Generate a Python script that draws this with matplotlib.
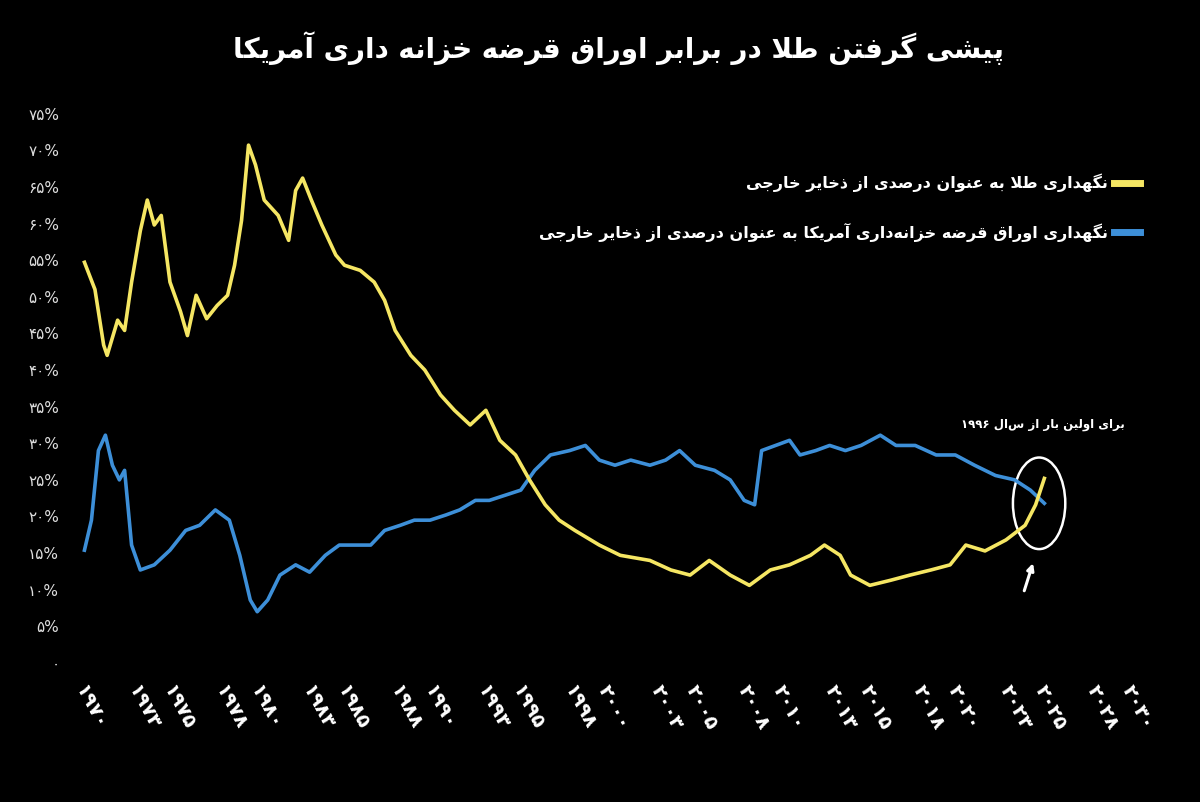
import matplotlib
matplotlib.use("Agg")
import matplotlib.pyplot as plt
from matplotlib.patches import Ellipse

plt.rcParams['font.family'] = ['DejaVu Sans']

# ---------------- data ----------------
gold_years = [1969.8,1970.4,1970.9,1971.1,1971.7,1972.1,1972.5,1973.0,1973.4,1973.8,1974.2,1974.7,1975.3,1975.7,
              1976.2,1976.8,1977.4,1978.0,1978.4,1978.8,1979.2,1979.6,1980.1,1980.9,1981.5,1981.9,1982.3,1982.8,
              1983.4,1984.2,1984.7,1985.6,1986.4,1987.0,1987.6,1988.5,1989.3,1990.2,1991.0,1991.9,1992.8,1993.6,
              1994.5,1995.3,1996.2,1997.0,1997.9,1999.3,2000.5,2002.2,2003.4,2004.5,2005.6,2006.8,2007.9,2009.1,
              2010.2,2011.4,2012.2,2013.1,2013.7,2014.8,2016.0,2017.1,2018.3,2019.4,2020.3,2021.4,2022.6,2023.7,
              2024.3,2024.8]
gold_pct = [54.7,51,43.4,42,46.8,45.4,52,59,63.2,59.8,61.1,52,48,44.7,
            50.2,47,48.8,50.2,54.3,60.4,70.7,68,63.2,61.1,57.7,64.5,66.2,63.2,
            59.8,55.7,54.3,53.6,52,49.5,45.4,42,40,36.6,34.5,32.5,34.5,30.4,
            28.4,25,21.6,19.5,18.1,16.1,14.7,14,12.7,12,14,12,10.6,12.7,
            13.4,14.7,16.1,14.7,12,10.6,11.3,12,12.7,13.4,16.1,15.3,16.8,18.8,
            21.6,25.2]
ust_years = [1969.8,1970.2,1970.6,1971.0,1971.4,1971.8,1972.1,1972.5,1973.0,1973.8,1974.7,1975.6,1976.4,1977.3,
             1978.1,1978.7,1979.3,1979.7,1980.3,1981.0,1981.9,1982.7,1983.6,1984.4,1985.3,1986.2,1987.0,1987.9,
             1988.7,1989.6,1990.5,1991.3,1992.2,1993.0,1993.9,1994.8,1995.6,1996.5,1997.6,1998.5,1999.3,2000.2,
             2001.1,2002.2,2003.1,2003.9,2004.8,2005.9,2006.8,2007.6,2008.2,2008.6,2009.4,2010.2,2010.8,2011.7,
             2012.5,2013.4,2014.3,2015.4,2016.3,2017.4,2018.6,2019.7,2020.8,2022.0,2023.1,2024.0,2024.8]
ust_pct = [15.4,19.5,29,31.1,27,25,26.3,16.1,12.7,13.4,15.4,18.1,18.8,20.9,
           19.5,14.7,8.6,7,8.6,12,13.4,12.4,14.7,16.1,16.1,16.1,18.1,18.8,
           19.5,19.5,20.2,20.9,22.2,22.2,22.9,23.6,26.3,28.4,29,29.7,27.7,27,
           27.7,27,27.7,29,27,26.3,25,22.2,21.6,29,29.7,30.4,28.4,29,
           29.7,29,29.7,31.1,29.7,29.7,28.4,28.4,27,25.6,25,23.6,21.8]
x_ticks = [1970,1973,1975,1978,1980,1983,1985,1988,1990,1993,1995,1998,2000,2003,2005,2008,
           2010,2013,2015,2018,2020,2023,2025,2028,2030]
y_ticks = list(range(0, 80, 5))

title = "پیشی گرفتن طلا در برابر اوراق قرضه خزانه داری آمریکا"
leg_gold = "نگهداری طلا به عنوان درصدی از ذخایر خارجی"
leg_ust = "نگهداری اوراق قرضه خزانه\u200cداری آمریکا به عنوان درصدی از ذخایر خارجی"
note = "برای اولین بار از سال ۱۹۹۶"

# ---------------- persian shaping ----------------
FORMS = {
 'ا': (0xFE8D,0xFE8E,None,None), 'آ': (0xFE81,0xFE82,None,None),
 'ب': (0xFE8F,0xFE90,0xFE91,0xFE92), 'پ': (0xFB56,0xFB57,0xFB58,0xFB59),
 'ت': (0xFE95,0xFE96,0xFE97,0xFE98), 'ج': (0xFE9D,0xFE9E,0xFE9F,0xFEA0),
 'خ': (0xFEA5,0xFEA6,0xFEA7,0xFEA8), 'د': (0xFEA9,0xFEAA,None,None),
 'ذ': (0xFEAB,0xFEAC,None,None), 'ر': (0xFEAD,0xFEAE,None,None),
 'ز': (0xFEAF,0xFEB0,None,None), 'ش': (0xFEB5,0xFEB6,0xFEB7,0xFEB8),
 'ص': (0xFEB9,0xFEBA,0xFEBB,0xFEBC), 'ض': (0xFEBD,0xFEBE,0xFEBF,0xFEC0),
 'ط': (0xFEC1,0xFEC2,0xFEC3,0xFEC4), 'ع': (0xFEC9,0xFECA,0xFECB,0xFECC),
 'ف': (0xFED1,0xFED2,0xFED3,0xFED4), 'ق': (0xFED5,0xFED6,0xFED7,0xFED8),
 'ک': (0xFB8E,0xFB8F,0xFB90,0xFB91), 'گ': (0xFB92,0xFB93,0xFB94,0xFB95),
 'ل': (0xFEDD,0xFEDE,0xFEDF,0xFEE0), 'م': (0xFEE1,0xFEE2,0xFEE3,0xFEE4),
 'ن': (0xFEE5,0xFEE6,0xFEE7,0xFEE8), 'ه': (0xFEE9,0xFEEA,0xFEEB,0xFEEC),
 'و': (0xFEED,0xFEEE,None,None), 'ی': (0xFBFC,0xFBFD,0xFBFE,0xFBFF),
}

def shape(text):
    chars = list(text)
    out = []
    i = 0
    n = len(chars)
    def joins_next(c):
        return c in FORMS and FORMS[c][2] is not None
    while i < n:
        c = chars[i]
        if c not in FORMS:
            out.append('' if c == '\u200c' else c)
            i += 1
            continue
        prev = chars[i-1] if i > 0 else None
        conn_prev = prev is not None and joins_next(prev)
        if c == 'ل' and i + 1 < n and chars[i+1] == 'ا':
            out.append(chr(0xFEFC if conn_prev else 0xFEFB))
            i += 2
            continue
        nxt = chars[i+1] if i + 1 < n else None
        conn_next = joins_next(c) and nxt is not None and nxt in FORMS
        iso, fin, ini, med = FORMS[c]
        if conn_prev and conn_next:
            f = med
        elif conn_prev:
            f = fin
        elif conn_next:
            f = ini
        else:
            f = iso
        out.append(chr(f))
        i += 1
    s = ''.join(out)[::-1]
    res, run = [], []
    for ch in s:
        if ch.isdigit():
            run.append(ch)
        else:
            if run:
                res.extend(run[::-1]); run = []
            res.append(ch)
    if run:
        res.extend(run[::-1])
    return ''.join(res)

def fa_digits(v):
    return ''.join(chr(0x06F0 + int(d)) for d in str(v))

# ---------------- figure ----------------
fig = plt.figure(figsize=(12, 8.02), dpi=100, facecolor='black')
ax = fig.add_axes([70.5/1200, 139/802, 1099.5/1200, 586/802])
ax.set_facecolor('black')
GOLD = '#f5e663'
BLUE = '#3d8fd8'
ax.plot(ust_years, ust_pct, color=BLUE, lw=2.6, solid_joinstyle='round')
ax.plot(gold_years, gold_pct, color=GOLD, lw=2.6, solid_joinstyle='round')
ax.set_xlim(1969, 2032)
ax.set_ylim(0, 80)
for s in ax.spines.values():
    s.set_visible(False)
ax.set_yticks(y_ticks)
ax.set_yticklabels([fa_digits(v) + ('%' if v else '') for v in y_ticks],
                   color='#dddddd', fontsize=11)
ax.set_xticks(x_ticks)
ax.set_xticklabels([fa_digits(v) for v in x_ticks], rotation=-62, ha='left',
                   va='top', rotation_mode='anchor', color='white',
                   fontsize=14, fontweight='bold')
ax.tick_params(length=0)
ax.tick_params(axis='x', pad=14)
ax.tick_params(axis='y', pad=8)

fig.text(0.515, 0.94, shape(title), color='white', fontsize=20, fontweight='bold',
         ha='center', va='center')

fig.text(1108/1200, 1 - 183/802, shape(leg_gold), color='white', fontsize=11.5,
         fontweight='bold', ha='right', va='center')
fig.text(1108/1200, 1 - 232/802, shape(leg_ust), color='white', fontsize=11.5,
         fontweight='bold', ha='right', va='center')
fig.add_artist(plt.Line2D([1114/1200, 1140/1200], [1 - 183/802]*2, color=GOLD, lw=5,
                          transform=fig.transFigure))
fig.add_artist(plt.Line2D([1114/1200, 1140/1200], [1 - 232/802]*2, color=BLUE, lw=5,
                          transform=fig.transFigure))

ax.add_patch(Ellipse((2024.5, 21.8), 3.0, 12.5, fill=False, ec='white', lw=1.8))
ax.annotate('', xy=(2024.2, 14), xytext=(2023.6, 9.5),
            arrowprops=dict(arrowstyle='-|>', color='white', lw=2.2))
ax.text(2029.4, 32.5, shape(note), color='white', fontsize=8.5, fontweight='bold',
        ha='right', va='center')

fig.savefig('out.png', dpi=100, facecolor='black')
